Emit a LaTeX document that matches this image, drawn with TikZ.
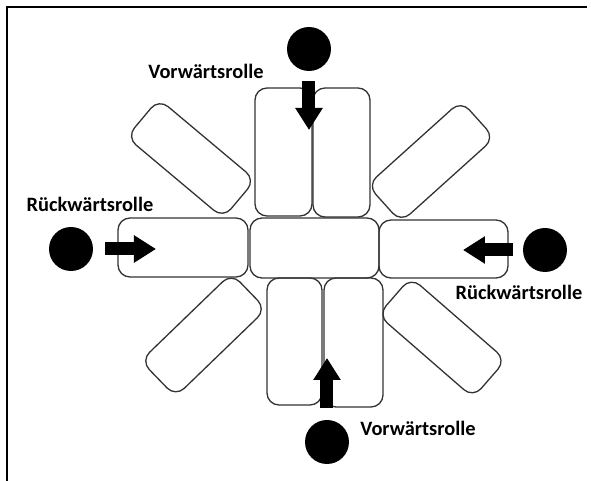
\documentclass[tikz,border=0pt]{standalone}
\usepackage{fontspec}
\setmainfont{Carlito}
\usetikzlibrary{arrows.meta}

\begin{document}
\begin{tikzpicture}[x=0.5pt,y=-0.5pt,
    mat/.style={draw=black!80,line width=0.65pt,rounded corners=6pt,inner sep=0pt},
    ball/.style={circle,fill=black,minimum size=22pt,inner sep=0pt},
    roll/.style={font=\fontsize{10.2}{12}\selectfont\bfseries,inner sep=0pt},
    push/.style={line width=6.5pt,-{Triangle[width=13pt,length=11pt]}}]
  \useasboundingbox (0,0) rectangle (591,481);
  \draw [line width=1pt] (7,481) -- (7,7) -- (587,7);
  % middle row
  \node [mat,minimum width=65pt,minimum height=29.5pt] at (183,247.5) (matL) {};
  \node [mat,minimum width=64.5pt,minimum height=30pt] at (314.5,248) (matC) {};
  \node [mat,minimum width=64.5pt,minimum height=29pt] at (443.5,249) (matR) {};
  % upper and lower pairs
  \node [mat,minimum width=28.5pt,minimum height=64pt] at (283.5,152) (matTa) {};
  \node [mat,minimum width=28.5pt,minimum height=64.5pt] at (341.5,152.5) (matTb) {};
  \node [mat,minimum width=27.5pt,minimum height=63.5pt] at (294.5,341.5) (matBa) {};
  \node [mat,minimum width=29.5pt,minimum height=64.5pt] at (353.5,342.5) (matBb) {};
  % diagonal mats
  \node [mat,minimum width=63pt,minimum height=25pt,rotate=-40] at (191,158.5) (matTL) {};
  \node [mat,minimum width=63pt,minimum height=25pt,rotate=42] at (431,161.5) (matTR) {};
  \node [mat,minimum width=63pt,minimum height=25pt,rotate=44] at (203.5,335) (matBL) {};
  \node [mat,minimum width=63pt,minimum height=25pt,rotate=-41] at (442,337.5) (matBR) {};
  % balls and labels
  \node [ball] at (309,49) (ballT) {};
  \node [ball] at (71,249) (ballL) {};
  \node [ball] at (545,250) (ballR) {};
  \node [ball] at (327,442) (ballB) {};
  \node [roll] at (206,71) (rollT) {Vorwärtsrolle};
  \node [roll] at (90,204) (rollL) {Rückwärtsrolle};
  \node [roll] at (519,292) (rollR) {Rückwärtsrolle};
  \node [roll] at (418,428) (rollB) {Vorwärtsrolle};
  \coordinate (tipT) at (309,130);
  \coordinate (tipL) at (156,249);
  \coordinate (tipR) at (463,250);
  \coordinate (tipB) at (327,358);
  \draw [push,shorten <=5pt] (ballT) -- (tipT);
  \draw [push,shorten <=6pt] (ballL) -- (tipL);
  \draw [push,shorten <=5pt] (ballR) -- (tipR);
  \draw [push,shorten <=6pt] (ballB) -- (tipB);
\end{tikzpicture}
\end{document}
